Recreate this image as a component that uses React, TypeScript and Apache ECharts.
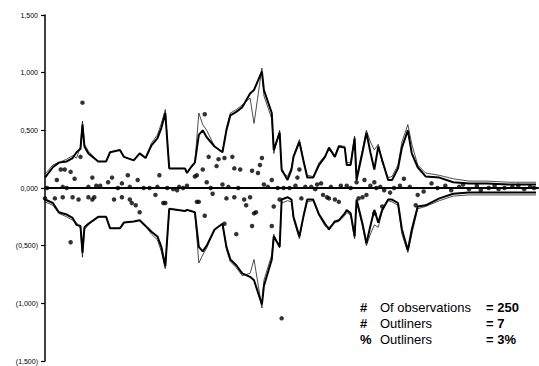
import React, { useEffect, useRef } from "react";
import * as echarts from "echarts";

// observation index at which the band values were read
const bandObs = [0, 4, 7, 11, 14, 16, 18, 19, 20, 22, 27, 31, 33, 38, 40, 45, 48, 51, 54, 57, 59, 61, 63, 71, 72, 74, 76, 78, 80, 82, 86, 90, 92, 94, 97, 100, 104, 106, 110, 111, 115, 116, 119, 120, 123, 125, 126, 129, 131, 133, 136, 139, 142, 144, 147, 149, 152, 153, 155, 157, 158, 161, 163, 165, 167, 169, 171, 174, 176, 179, 181, 184, 186, 189, 193, 200, 207, 215, 224, 235, 249];

const upperThick = [0.09, 0.18, 0.22, 0.23, 0.26, 0.31, 0.34, 0.55, 0.36, 0.30, 0.23, 0.23, 0.31, 0.33, 0.27, 0.24, 0.30, 0.26, 0.37, 0.43, 0.52, 0.65, 0.17, 0.17, 0.13, 0.18, 0.22, 0.46, 0.50, 0.44, 0.36, 0.31, 0.50, 0.63, 0.66, 0.70, 0.82, 0.85, 1.01, 0.85, 0.65, 0.33, 0.48, 0.16, 0.07, 0.16, 0.27, 0.40, 0.24, 0.09, 0.09, 0.20, 0.27, 0.35, 0.27, 0.36, 0.35, 0.20, 0.20, 0.43, 0.07, 0.31, 0.48, 0.31, 0.16, 0.36, 0.24, 0.07, 0.07, 0.17, 0.35, 0.50, 0.30, 0.18, 0.10, 0.09, 0.05, 0.04, 0.04, 0.03, 0.03];

const upperThin = [0.12, 0.20, 0.22, 0.25, 0.28, 0.26, 0.36, 0.58, 0.38, 0.32, 0.23, 0.23, 0.31, 0.33, 0.27, 0.24, 0.30, 0.26, 0.39, 0.46, 0.56, 0.68, 0.17, 0.17, 0.13, 0.18, 0.22, 0.65, 0.55, 0.50, 0.36, 0.31, 0.52, 0.65, 0.68, 0.72, 0.78, 0.56, 1.04, 0.80, 0.60, 0.30, 0.50, 0.14, 0.10, 0.18, 0.28, 0.42, 0.25, 0.11, 0.10, 0.22, 0.28, 0.33, 0.28, 0.37, 0.36, 0.22, 0.22, 0.45, 0.10, 0.33, 0.50, 0.40, 0.33, 0.38, 0.22, 0.09, 0.10, 0.20, 0.40, 0.55, 0.38, 0.20, 0.13, 0.11, 0.08, 0.06, 0.06, 0.05, 0.05];

const lowerThick = [-0.10, -0.13, -0.21, -0.23, -0.26, -0.32, -0.33, -0.56, -0.34, -0.31, -0.25, -0.25, -0.35, -0.35, -0.30, -0.29, -0.28, -0.33, -0.38, -0.42, -0.51, -0.68, -0.18, -0.20, -0.19, -0.20, -0.21, -0.51, -0.55, -0.50, -0.36, -0.31, -0.51, -0.62, -0.67, -0.74, -0.77, -0.80, -1.01, -0.85, -0.62, -0.42, -0.51, -0.10, -0.08, -0.10, -0.25, -0.42, -0.25, -0.10, -0.10, -0.23, -0.31, -0.36, -0.29, -0.28, -0.22, -0.19, -0.22, -0.42, -0.10, -0.31, -0.48, -0.33, -0.19, -0.30, -0.19, -0.10, -0.10, -0.13, -0.36, -0.54, -0.36, -0.16, -0.15, -0.09, -0.05, -0.04, -0.04, -0.04, -0.04];

const lowerThin = [-0.12, -0.15, -0.22, -0.25, -0.28, -0.30, -0.35, -0.60, -0.36, -0.32, -0.25, -0.25, -0.35, -0.35, -0.30, -0.29, -0.28, -0.33, -0.40, -0.45, -0.55, -0.70, -0.18, -0.20, -0.19, -0.20, -0.21, -0.65, -0.58, -0.52, -0.36, -0.31, -0.53, -0.64, -0.69, -0.76, -0.74, -0.62, -1.04, -0.80, -0.58, -0.40, -0.52, -0.13, -0.11, -0.12, -0.27, -0.44, -0.26, -0.12, -0.11, -0.24, -0.33, -0.34, -0.30, -0.29, -0.24, -0.21, -0.24, -0.44, -0.12, -0.33, -0.50, -0.40, -0.32, -0.34, -0.20, -0.11, -0.12, -0.15, -0.40, -0.56, -0.40, -0.18, -0.16, -0.11, -0.07, -0.06, -0.06, -0.06, -0.06];

// daily P&L observations (dots)
const dotObs = [19, 18, 8, 10, 13, 6, 15, 24, 28, 32, 34, 39, 42, 47, 43, 58, 1, 9, 11, 22, 26, 37, 53, 57, 0, 5, 9, 14, 17, 22, 24, 25, 35, 39, 43, 44, 46, 48, 56, 61, 13,
  81, 83, 88, 87, 91, 95, 110, 109, 80, 77, 76, 96, 99, 105, 108, 82, 90, 111, 115, 72, 62, 65, 67, 77, 78, 85, 92, 96, 101, 102, 104, 81, 106, 107, 91, 97, 105, 115, 116, 119, 120, 60,
  129, 128, 140, 138, 158, 162, 167, 182, 130, 141, 143, 144, 147, 149, 159, 163, 171, 188, 124, 135, 153, 168, 172, 175, 161, 167, 189,
  196, 203, 206, 210, 215, 219, 225, 230, 237, 243, 248, 192, 199, 212, 221, 228, 233, 240, 246,
  50, 68, 70, 84, 93, 98, 113, 118, 121, 127, 132, 137, 145, 150, 155, 165, 170, 177, 180, 185];
const dotVal = [0.74, 0.27, 0.16, 0.16, 0.14, 0.07, 0.08, 0.09, 0.02, 0.05, 0.09, 0.04, 0.11, 0.07, 0.01, 0.11, 0.0, 0.01, 0.0, 0.01, 0.02, 0.0, 0.0, 0.01, -0.09, -0.09, -0.08, -0.08, -0.10, -0.08, -0.10, -0.08, -0.10, -0.08, -0.10, -0.13, -0.15, -0.21, -0.06, -0.13, -0.47,
  0.64, 0.27, 0.25, 0.19, 0.26, 0.27, 0.26, 0.20, 0.16, 0.11, 0.10, 0.17, 0.16, 0.15, 0.13, 0.05, 0.03, 0.03, 0.07, 0.02, 0.0, -0.01, -0.02, -0.12, -0.12, -0.05, -0.09, -0.08, -0.10, -0.15, -0.08, -0.24, -0.22, -0.21, -0.31, -0.40, -0.33, -0.33, -0.16, -0.10, -1.13, -0.13,
  0.16, 0.09, 0.04, 0.03, 0.05, 0.07, 0.05, 0.08, -0.09, -0.06, -0.08, -0.09, -0.10, -0.12, -0.09, -0.06, -0.16, -0.15, 0.0, 0.01, 0.02, 0.0, -0.02, -0.04, -0.08, -0.22, -0.06,
  0.04, 0.02, -0.02, 0.01, -0.01, 0.02, 0.0, -0.01, 0.01, -0.01, 0.0, -0.03, 0.0, 0.03, -0.02, 0.02, 0.0, 0.02, 0.01,
  0.0, 0.01, 0.0, 0.0, 0.01, 0.0, 0.01, 0.0, 0.0, 0.02, 0.01, -0.01, 0.01, 0.02, 0.0, 0.02, 0.01, 0.0, 0.02, 0.01];

const statLabels = ["Of observations", "Outliners", "Outliners"];
const statSigns = ["#", "#", "%"];
const statValues = ["250", "7", "3%"];

const fmtTick = (v: number) => {
  const s = Math.abs(v).toFixed(3).replace(".", ",");
  return v < 0 ? `(${s})` : s;
};

export default function App() {
  const ref = useRef<HTMLDivElement>(null);
  useEffect(() => {
    if (!ref.current) return;
    const chart = echarts.init(ref.current, undefined, { renderer: "svg" });
    const zip = (ys: number[]) => bandObs.map((x, i) => [x, ys[i]]);
    const lineS = (ys: number[], w: number) => ({
      type: "line",
      data: zip(ys),
      symbol: "none",
      lineStyle: { color: "#000", width: w },
      z: w > 1 ? 3 : 2,
    });
    const graphics: any[] = [];
    const rowY = [301, 317, 333];
    rowY.forEach((y, i) => {
      graphics.push({ type: "text", left: 360, top: y, style: { text: statSigns[i], font: "bold 13px 'Liberation Sans', Arial", fill: "#000" } });
      graphics.push({ type: "text", left: 380, top: y, style: { text: statLabels[i], font: "13px 'Liberation Sans', Arial", fill: "#000" } });
      graphics.push({ type: "text", left: 486, top: y, style: { text: "= " + statValues[i], font: "bold 13px 'Liberation Sans', Arial", fill: "#000" } });
    });
    chart.setOption({
      animation: false,
      backgroundColor: "#fff",
      grid: { left: 45, right: 1, top: 15, bottom: 5 },
      xAxis: {
        type: "value",
        min: 0,
        max: 250,
        axisLine: { show: true, onZero: true, lineStyle: { color: "#000", width: 2 } },
        axisTick: { show: false },
        axisLabel: { show: false },
        splitLine: { show: false },
      },
      yAxis: {
        type: "value",
        min: -1.5,
        max: 1.5,
        interval: 0.5,
        axisLine: { show: true, lineStyle: { color: "#000", width: 1.5 } },
        axisTick: { show: true, length: 4, lineStyle: { color: "#000", width: 1.2 } },
        axisLabel: { formatter: fmtTick, fontSize: 7, color: "#000", margin: 7, fontFamily: "'Liberation Sans', Arial" },
        splitLine: { show: false },
      },
      series: [
        lineS(upperThin, 0.7),
        lineS(lowerThin, 0.7),
        lineS(upperThick, 2),
        lineS(lowerThick, 2),
        {
          type: "scatter",
          data: dotObs.map((x, i) => [x, dotVal[i]]),
          symbol: "circle",
          symbolSize: 4.5,
          itemStyle: { color: "#000" },
          z: 4,
        },
      ],
      graphic: graphics,
    });
    return () => chart.dispose();
  }, []);
  return <div ref={ref} style={{ position: "fixed", left: 0, top: 0, width: 539, height: 366 }} />;
}
